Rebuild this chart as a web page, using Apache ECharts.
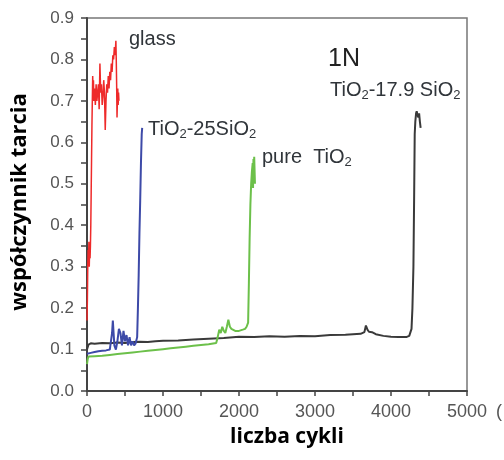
<!DOCTYPE html>
<html>
<head>
<meta charset="utf-8">
<script src="https://cdn.jsdelivr.net/npm/echarts@6/dist/echarts.min.js"></script>
<style>html,body{margin:0;padding:0;background:#fff}#c{width:504px;height:460px}</style>
</head>
<body>
<div id="c"></div>
<script>
// Axis ticks
const xTicks = [0, 1000, 2000, 3000, 4000, 5000];
const yTicks = [0.0, 0.1, 0.2, 0.3, 0.4, 0.5, 0.6, 0.7, 0.8, 0.9];

// glass (red)
const glassX = [0,5,10,15,20,25,30,35,40,45,50,55,60,65,70,75,80,85,90,100,110,120,130,140,150,160,170,180,190,200,210,220,230,240,250,260,270,280,290,300,310,320,330,340,350,360,370,380,385,390,395,400,405,410,415,420];
const glassY = [0.17,0.22,0.30,0.34,0.31,0.36,0.30,0.35,0.32,0.35,0.40,0.48,0.56,0.64,0.70,0.76,0.72,0.75,0.70,0.73,0.69,0.74,0.70,0.72,0.74,0.68,0.79,0.72,0.74,0.69,0.71,0.75,0.72,0.63,0.70,0.74,0.72,0.76,0.73,0.77,0.75,0.79,0.77,0.81,0.80,0.83,0.81,0.845,0.80,0.74,0.66,0.70,0.73,0.69,0.72,0.70];

// TiO2-25SiO2 (blue)
const blueX = [0,50,100,150,200,250,300,320,330,340,350,360,380,400,420,440,460,480,500,520,540,560,580,600,620,640,660,670,680,690,700,710,720,726];
const blueY = [0.09,0.092,0.094,0.096,0.097,0.098,0.10,0.10,0.14,0.17,0.14,0.11,0.10,0.12,0.15,0.14,0.11,0.145,0.12,0.135,0.11,0.13,0.11,0.12,0.11,0.115,0.13,0.20,0.28,0.38,0.46,0.55,0.62,0.635];

// pure TiO2 (green)
const greenX = [0,10,20,100,200,300,400,500,600,700,800,900,1000,1100,1200,1300,1400,1500,1600,1700,1720,1740,1760,1780,1800,1820,1840,1860,1880,1900,1950,2000,2050,2080,2100,2120,2130,2140,2150,2160,2170,2180,2185,2190,2195,2200,2210];
const greenY = [0.065,0.078,0.083,0.084,0.085,0.087,0.089,0.091,0.093,0.095,0.097,0.099,0.101,0.103,0.105,0.107,0.109,0.111,0.113,0.116,0.13,0.148,0.14,0.155,0.145,0.14,0.155,0.172,0.155,0.15,0.145,0.145,0.148,0.15,0.155,0.165,0.26,0.37,0.45,0.50,0.53,0.55,0.49,0.56,0.51,0.565,0.50];

// TiO2-17.9 SiO2 (black)
const blackX = [0,20,50,100,200,300,400,500,600,700,800,900,1000,1200,1400,1600,1800,2000,2200,2400,2600,2800,3000,3200,3400,3500,3600,3650,3670,3690,3710,3750,3800,3900,4000,4100,4200,4240,4270,4282,4295,4304,4312,4320,4330,4338,4350,4360,4370,4380,4390];
const blackY = [0.10,0.112,0.115,0.114,0.116,0.115,0.117,0.116,0.118,0.119,0.118,0.12,0.121,0.122,0.124,0.126,0.128,0.131,0.13,0.132,0.131,0.133,0.132,0.135,0.136,0.137,0.138,0.142,0.158,0.148,0.143,0.142,0.137,0.133,0.131,0.13,0.13,0.133,0.15,0.2,0.30,0.46,0.62,0.65,0.67,0.675,0.665,0.66,0.67,0.65,0.635];

const zip = (xs, ys) => xs.map((x, i) => [x, ys[i]]);

const chart = echarts.init(document.getElementById('c'), null, {renderer: 'canvas'});
const lab = {fontFamily: 'Liberation Sans', fontSize: 17, color: '#555'};
const annot = {fontFamily: 'Liberation Sans', fontSize: 20, fill: '#30353a'};
const subRich = {s: {fontFamily: 'Liberation Sans', fontSize: 13, padding: [10, 0, 0, 0], color: '#30353a'}};

chart.setOption({
  animation: false,
  backgroundColor: '#fff',
  grid: {left: 87, right: 37, top: 18, bottom: 69, show: true, borderColor: '#777', borderWidth: 1.5, backgroundColor: 'transparent'},
  xAxis: {
    type: 'value', min: xTicks[0], max: xTicks[xTicks.length - 1], interval: xTicks[1] - xTicks[0],
    axisLine: {show: true, lineStyle: {color: '#444', width: 2}},
    axisTick: {show: true, length: 5, lineStyle: {color: '#444', width: 1.5}},
    minorTick: {show: true, splitNumber: 2, length: 5, lineStyle: {color: '#444', width: 1.5}},
    splitLine: {show: false},
    axisLabel: Object.assign({margin: 12}, lab, {fontSize: 18, formatter: v => String(v)})
  },
  yAxis: {
    type: 'value', min: yTicks[0], max: yTicks[yTicks.length - 1], interval: 0.1,
    axisLine: {show: true, lineStyle: {color: '#444', width: 2}},
    axisTick: {show: true, length: 6, lineStyle: {color: '#444', width: 1.5}},
    minorTick: {show: true, splitNumber: 2, length: 6, lineStyle: {color: '#444', width: 1.5}},
    splitLine: {show: false},
    axisLabel: Object.assign({margin: 13}, lab, {formatter: v => v.toFixed(1)})
  },
  series: [
    {type: 'line', data: zip(blackX, blackY), showSymbol: false, symbol: 'none', lineStyle: {color: '#3a3a3a', width: 2}},
    {type: 'line', data: zip(greenX, greenY), showSymbol: false, symbol: 'none', lineStyle: {color: '#6cc04a', width: 2}},
    {type: 'line', data: zip(blueX, blueY), showSymbol: false, symbol: 'none', lineStyle: {color: '#3d4aa8', width: 2}},
    {type: 'line', data: zip(glassX, glassY), showSymbol: false, symbol: 'none', lineStyle: {color: '#ee2a2a', width: 1.5}}
  ],
  graphic: [
    {type: 'text', x: 129, y: 29, style: Object.assign({text: 'glass', textVerticalAlign: 'top'}, annot)},
    {type: 'text', x: 328, y: 47, style: {text: '1N', textVerticalAlign: 'top', fontFamily: 'Liberation Sans', fontSize: 25, fill: '#222'}},
    {type: 'text', x: 330, y: 79, style: Object.assign({text: 'TiO{s|2}-17.9 SiO{s|2}', textVerticalAlign: 'top', rich: subRich}, annot)},
    {type: 'text', x: 148, y: 118, style: Object.assign({text: 'TiO{s|2}-25SiO{s|2}', textVerticalAlign: 'top', rich: subRich}, annot)},
    {type: 'text', x: 262, y: 146, style: Object.assign({text: 'pure  TiO{s|2}', textVerticalAlign: 'top', rich: subRich}, annot)},
    {type: 'text', x: 496, y: 403, style: {text: '(', textVerticalAlign: 'top', fontFamily: 'Liberation Sans', fontSize: 18, fill: '#555'}},
    {type: 'text', x: 287, y: 427, style: {text: 'liczba cykli', textAlign: 'center', textVerticalAlign: 'top', fontFamily: 'Open Sans', fontWeight: 'bold', fontSize: 21, fill: '#000'}},
    {type: 'text', x: 9, y: 202, rotation: Math.PI / 2, style: {text: 'współczynnik tarcia', textAlign: 'center', textVerticalAlign: 'top', fontFamily: 'Open Sans', fontWeight: 'bold', fontSize: 22, fill: '#000'}}
  ]
});
</script>
</body>
</html>
